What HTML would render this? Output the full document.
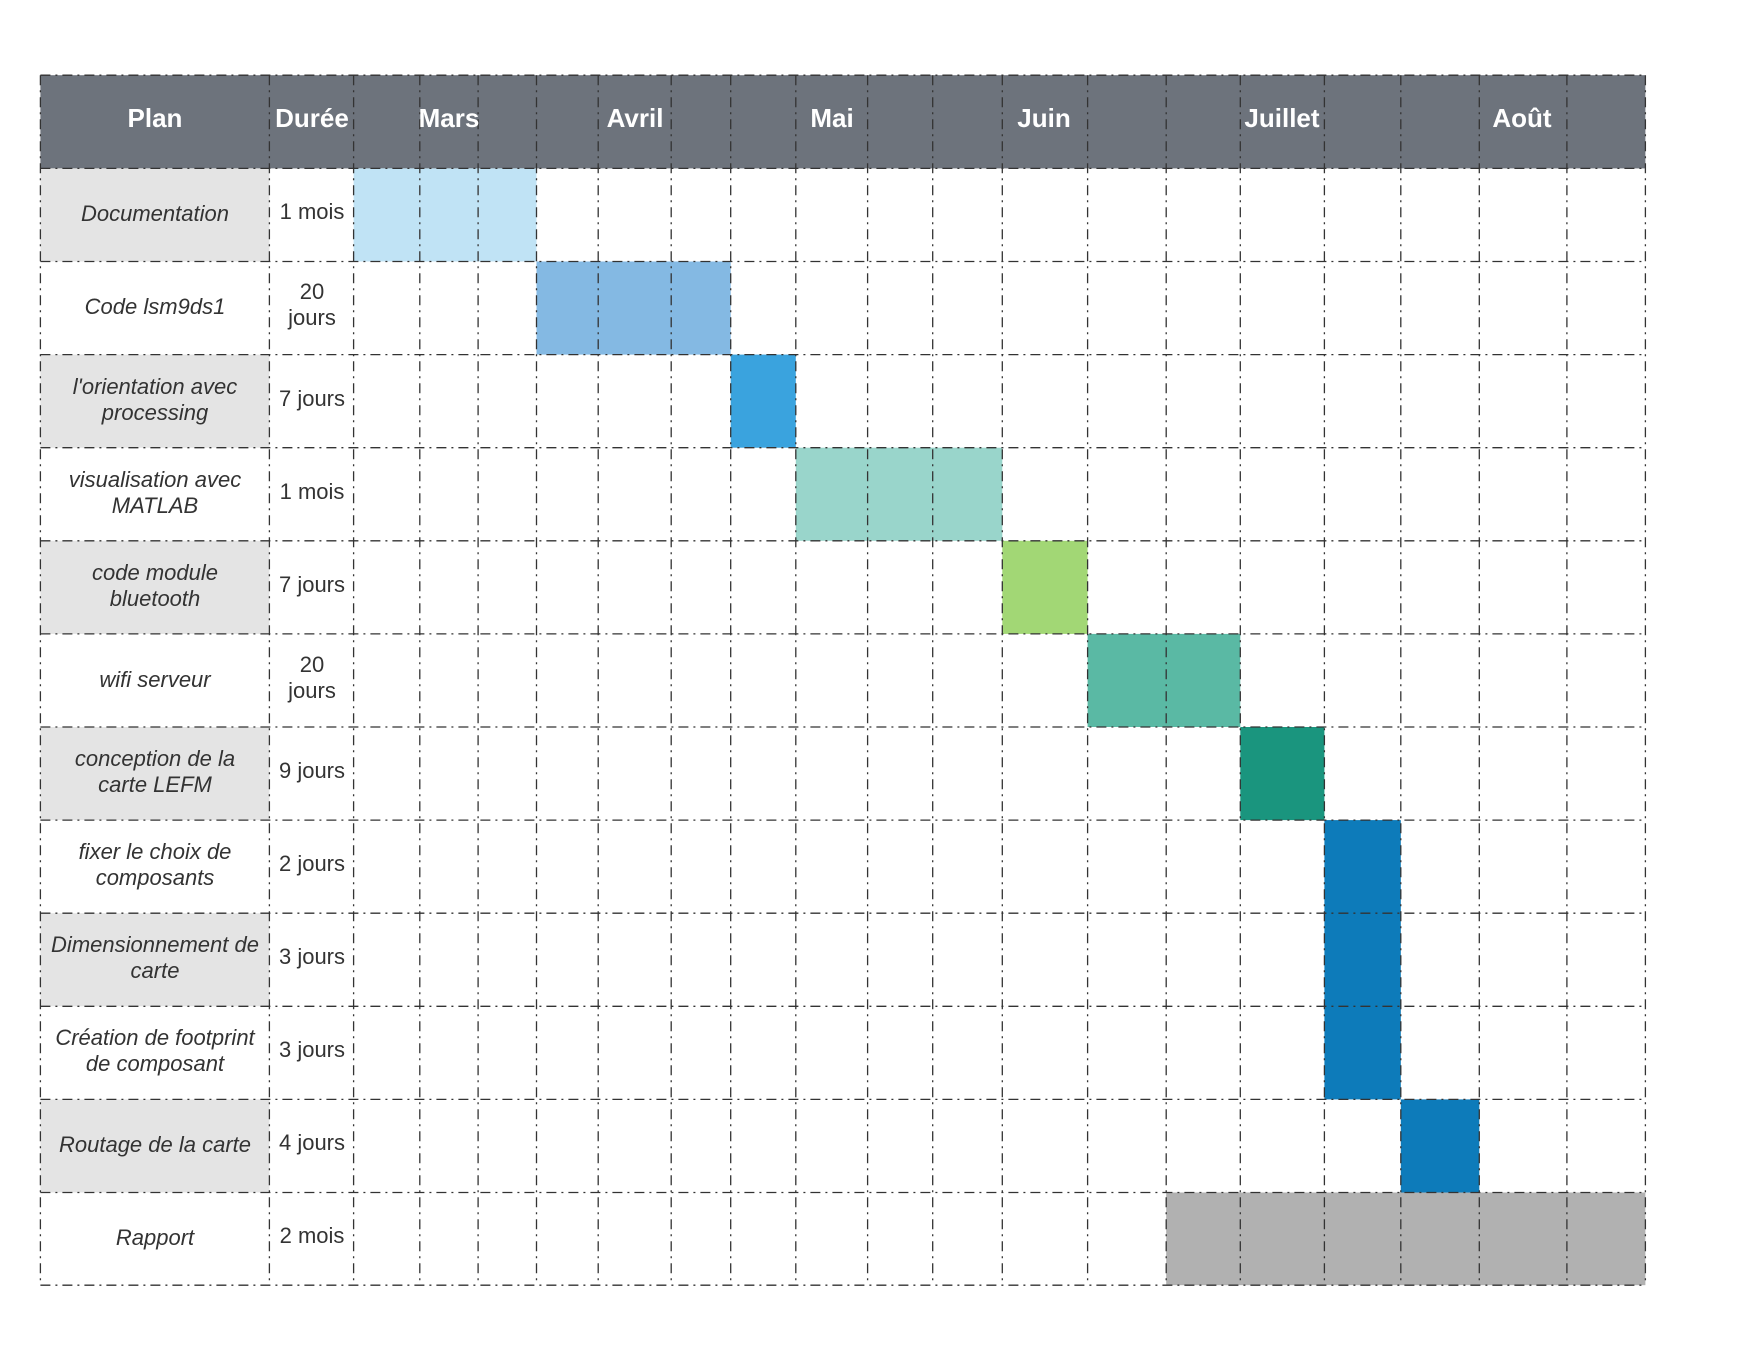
<!DOCTYPE html>
<html><head><meta charset="utf-8"><style>
html,body{margin:0;padding:0;background:#fff;}
svg{display:block;}
</style></head><body>
<svg width="1760" height="1360" viewBox="0 0 1760 1360" xmlns="http://www.w3.org/2000/svg" font-family="Liberation Sans, sans-serif">
<rect x="0" y="0" width="1760" height="1360" fill="#fff"/>
<rect x="40.4" y="75.2" width="1605" height="93.2" fill="#6d737c"/>
<g fill="#e4e4e4">
<rect x="40.4" y="168.4" width="229" height="93.1"/>
<rect x="40.4" y="354.6" width="229" height="93.1"/>
<rect x="40.4" y="540.8" width="229" height="93.1"/>
<rect x="40.4" y="727" width="229" height="93.1"/>
<rect x="40.4" y="913.2" width="229" height="93.1"/>
<rect x="40.4" y="1099.4" width="229" height="93.1"/>
</g>
<rect x="353.6" y="168.4" width="182.9" height="93.1" fill="#c0e3f5"/>
<rect x="536.5" y="261.5" width="194.2" height="93.1" fill="#84b9e3"/>
<rect x="730.7" y="354.6" width="65.1" height="93.1" fill="#3aa3de"/>
<rect x="795.8" y="447.7" width="206.5" height="93.1" fill="#99d5cb"/>
<rect x="1002.3" y="540.8" width="85.3" height="93.1" fill="#a2d775"/>
<rect x="1087.6" y="633.9" width="152.7" height="93.1" fill="#5ab9a4"/>
<rect x="1240.3" y="727" width="84.1" height="93.1" fill="#1a957e"/>
<rect x="1324.4" y="820.1" width="76.4" height="279.3" fill="#0d7bba"/>
<rect x="1400.8" y="1099.4" width="78.5" height="93.1" fill="#0d7bba"/>
<rect x="1166.2" y="1192.5" width="479.2" height="92.7" fill="#b1b1b1"/>
<g stroke="#333" stroke-width="1.3" stroke-dasharray="10 5 2 5" fill="none">
<path d="M40.4 75.2V1285.2M269.4 75.2V1285.2M353.6 75.2V1285.2M419.8 75.2V1285.2M478.1 75.2V1285.2M536.5 75.2V1285.2M598.2 75.2V1285.2M671.2 75.2V1285.2M730.7 75.2V1285.2M795.8 75.2V1285.2M867.6 75.2V1285.2M932.7 75.2V1285.2M1002.3 75.2V1285.2M1087.6 75.2V1285.2M1166.2 75.2V1285.2M1240.3 75.2V1285.2M1324.4 75.2V1285.2M1400.8 75.2V1285.2M1479.3 75.2V1285.2M1566.9 75.2V1285.2M1645.4 75.2V1285.2"/>
<path d="M40.4 75.2H1645.4M40.4 168.4H1645.4M40.4 261.5H1645.4M40.4 354.6H1645.4M40.4 447.7H1645.4M40.4 540.8H1645.4M40.4 633.9H1645.4M40.4 727H1645.4M40.4 820.1H1645.4M40.4 913.2H1645.4M40.4 1006.3H1645.4M40.4 1099.4H1645.4M40.4 1192.5H1645.4M40.4 1285.2H1645.4"/>
</g>
<g fill="#fff" font-weight="bold" font-size="26" text-anchor="middle">
<text x="155" y="127">Plan</text>
<text x="312" y="127">Durée</text>
<text x="449" y="127">Mars</text>
<text x="635" y="127">Avril</text>
<text x="832" y="127">Mai</text>
<text x="1044" y="127">Juin</text>
<text x="1282" y="127">Juillet</text>
<text x="1522" y="127">Août</text>
</g>
<g fill="#333" font-style="italic" font-size="22" text-anchor="middle">
<text x="155" y="221">Documentation</text>
<text x="155" y="314">Code lsm9ds1</text>
<text x="155" y="394">l'orientation avec</text><text x="155" y="420">processing</text>
<text x="155" y="487">visualisation avec</text><text x="155" y="513">MATLAB</text>
<text x="155" y="580">code module</text><text x="155" y="606">bluetooth</text>
<text x="155" y="687">wifi serveur</text>
<text x="155" y="766">conception de la</text><text x="155" y="792">carte LEFM</text>
<text x="155" y="859">fixer le choix de</text><text x="155" y="885">composants</text>
<text x="155" y="952">Dimensionnement de</text><text x="155" y="978">carte</text>
<text x="155" y="1045">Création de footprint</text><text x="155" y="1071">de composant</text>
<text x="155" y="1152">Routage de la carte</text>
<text x="155" y="1245">Rapport</text>
</g>
<g fill="#333" font-size="22" text-anchor="middle">
<text x="312" y="219">1 mois</text>
<text x="312" y="299">20</text><text x="312" y="325">jours</text>
<text x="312" y="406">7 jours</text>
<text x="312" y="499">1 mois</text>
<text x="312" y="592">7 jours</text>
<text x="312" y="672">20</text><text x="312" y="698">jours</text>
<text x="312" y="778">9 jours</text>
<text x="312" y="871">2 jours</text>
<text x="312" y="964">3 jours</text>
<text x="312" y="1057">3 jours</text>
<text x="312" y="1150">4 jours</text>
<text x="312" y="1243">2 mois</text>
</g>
</svg>
</body></html>
